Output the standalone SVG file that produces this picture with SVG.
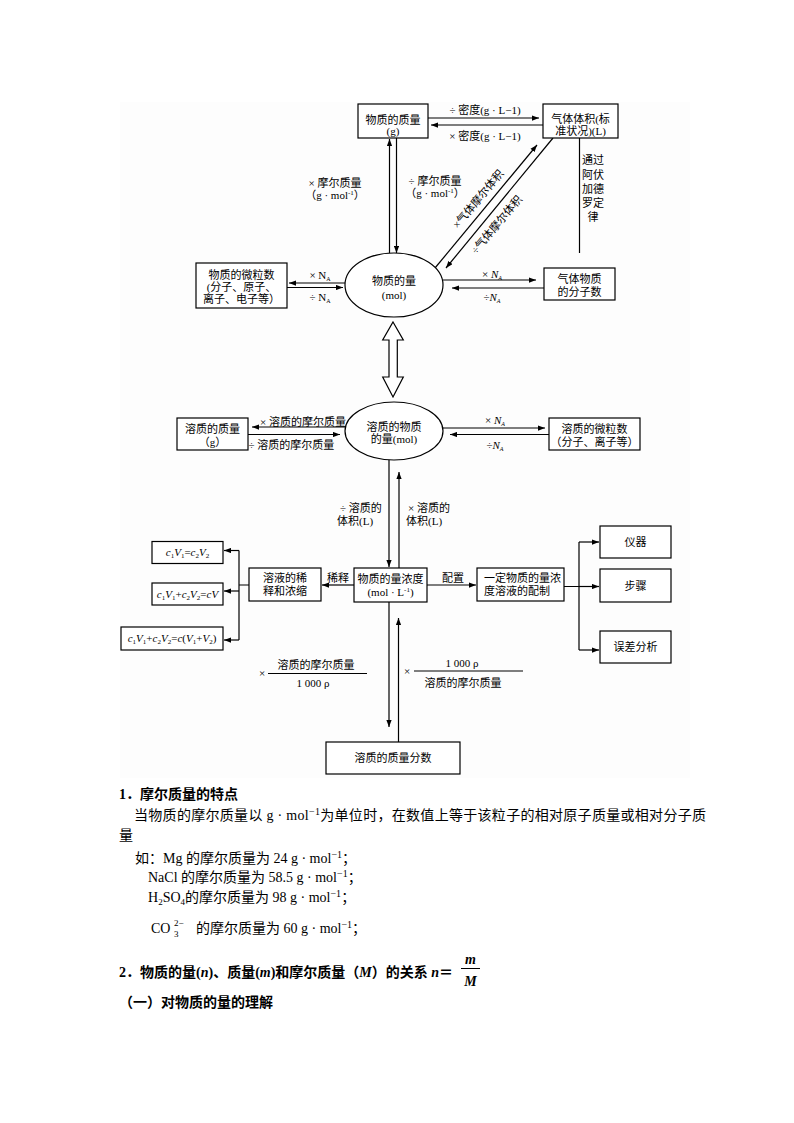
<svg xmlns="http://www.w3.org/2000/svg" width="794" height="1123" viewBox="0 0 794 1123">
<defs>
<marker id="ah" viewBox="0 0 8 6" refX="8" refY="3" markerWidth="7" markerHeight="5.5" orient="auto" markerUnits="userSpaceOnUse"><path d="M0,0 L8,3 L0,6 z" fill="#000"/></marker>
<style>
.bx{fill:#fff;stroke:#000;stroke-width:1.2}
.ln{fill:none;stroke:#000;stroke-width:1.2}
.ar{fill:none;stroke:#000;stroke-width:1.2;marker-end:url(#ah)}
text{font-family:"Liberation Serif","Noto Sans CJK SC",serif;fill:#000}
.t{font-size:11px}
.c{text-anchor:middle}
.i{font-style:italic}
.b{font-size:14px}
.h{font-size:14px;font-weight:bold}
</style>
</defs>
<rect x="120" y="102" width="570" height="676" fill="#fdfdfd"/>

<g id="connectors">
<path class="ar" d="M428,118 H539"/>
<path class="ar" d="M543,125 H431"/>
<path class="ar" d="M389.5,253 V139"/>
<path class="ar" d="M396.5,138 V253"/>
<path class="ar" d="M435,268 L537,145"/>
<path class="ar" d="M553,138 L446,268"/>
<path class="ln" d="M579.5,138 V253"/>
<path class="ar" d="M345,283 H289"/>
<path class="ar" d="M287,287.5 H343"/>
<path class="ar" d="M443,280 H536"/>
<path class="ar" d="M544,288 H452"/>
<path d="M393,322 L403.3,340 L397.3,340 L397.3,377 L403.3,377 L393,397 L382.7,377 L389,377 L389,340 L382.7,340 Z" fill="#fff" stroke="#000" stroke-width="1.2"/>
<path class="ar" d="M345.5,427 H252"/>
<path class="ar" d="M248,434.5 H340"/>
<path class="ar" d="M443,428 H545"/>
<path class="ar" d="M549,434.5 H450"/>
<path class="ar" d="M389,460 V567"/>
<path class="ar" d="M399,568 V472"/>
<path class="ar" d="M354,585 H322"/>
<path class="ln" d="M249,585 H239 M239,550.5 V640"/>
<path class="ar" d="M239,550.5 H224"/>
<path class="ar" d="M239,591 H224"/>
<path class="ar" d="M239,640 H224"/>
<path class="ar" d="M427,585 H476"/>
<path class="ln" d="M564,586.5 H579 M579,542 V650"/>
<path class="ar" d="M579,542 H599"/>
<path class="ar" d="M579,586.5 H599"/>
<path class="ar" d="M579,650 H599"/>
<path class="ar" d="M389,602 V727"/>
<path class="ar" d="M398.5,742 V618"/>
</g>

<g id="n_mass"><rect class="bx" x="358" y="104" width="70" height="34"/><text class="t c" x="393" y="124">物质的质量</text><text class="t c" x="393" y="135">(g)</text></g>
<g id="n_gasvol"><rect class="bx" x="543" y="104" width="75" height="34"/><text class="t c" x="580.5" y="123">气体体积(标</text><text class="t c" x="580.5" y="135">准状况)(L)</text></g>
<g id="n_particles"><rect class="bx" x="196" y="263" width="91" height="45"/><text class="t c" x="241.5" y="279">物质的微粒数</text><text class="t c" x="241.5" y="291">(分子、原子、</text><text class="t c" x="241.5" y="303">离子、电子等）</text></g>
<g id="n_amount"><ellipse class="bx" cx="394" cy="285" rx="49" ry="32"/><text class="t c" x="394" y="285">物质的量</text><text class="t c" x="394" y="299">(mol)</text></g>
<g id="n_gasmol"><rect class="bx" x="544" y="268" width="71" height="32"/><text class="t c" x="579.5" y="283">气体物质</text><text class="t c" x="579.5" y="296">的分子数</text></g>
<g id="n_solmass"><rect class="bx" x="177" y="418" width="71" height="32"/><text class="t c" x="212.5" y="433">溶质的质量</text><text class="t c" x="212.5" y="446">（g）</text></g>
<g id="n_solamount"><ellipse class="bx" cx="394" cy="431" rx="49" ry="29"/><text class="t c" x="394" y="431">溶质的物质</text><text class="t c" x="394" y="443">的量(mol)</text></g>
<g id="n_solpart"><rect class="bx" x="549" y="418" width="91" height="32"/><text class="t c" x="594.5" y="433">溶质的微粒数</text><text class="t c" x="594.5" y="446">（分子、离子等）</text></g>
<g id="n_conc"><rect class="bx" x="354" y="568" width="73" height="34"/><text class="t c" x="390.5" y="583">物质的量浓度</text><text class="t c" x="390.5" y="596">(mol · L<tspan font-size="7" dy="-4">-1</tspan><tspan dy="4">)</tspan></text></g>
<g id="n_dilute"><rect class="bx" x="249" y="568" width="72" height="33"/><text class="t c" x="285" y="582">溶液的稀</text><text class="t c" x="285" y="595">释和浓缩</text></g>
<g id="n_f1"><rect class="bx" x="152" y="541.5" width="71" height="22"/><text class="t c" x="187.5" y="556"><tspan class="i">c</tspan><tspan font-size="7" dy="2">1</tspan><tspan class="i" dy="-2">V</tspan><tspan font-size="7" dy="2">1</tspan><tspan dy="-2">=</tspan><tspan class="i">c</tspan><tspan font-size="7" dy="2">2</tspan><tspan class="i" dy="-2">V</tspan><tspan font-size="7" dy="2">2</tspan></text></g>
<g id="n_f2"><rect class="bx" x="152" y="583" width="71" height="22"/><text class="t c" x="187.5" y="598"><tspan class="i">c</tspan><tspan font-size="7" dy="2">1</tspan><tspan class="i" dy="-2">V</tspan><tspan font-size="7" dy="2">1</tspan><tspan dy="-2">+</tspan><tspan class="i">c</tspan><tspan font-size="7" dy="2">2</tspan><tspan class="i" dy="-2">V</tspan><tspan font-size="7" dy="2">2</tspan><tspan dy="-2">=</tspan><tspan class="i">cV</tspan></text></g>
<g id="n_f3"><rect class="bx" x="121" y="627" width="102" height="23"/><text class="t c" x="172" y="642"><tspan class="i">c</tspan><tspan font-size="7" dy="2">1</tspan><tspan class="i" dy="-2">V</tspan><tspan font-size="7" dy="2">1</tspan><tspan dy="-2">+</tspan><tspan class="i">c</tspan><tspan font-size="7" dy="2">2</tspan><tspan class="i" dy="-2">V</tspan><tspan font-size="7" dy="2">2</tspan><tspan dy="-2">=</tspan><tspan class="i">c</tspan><tspan>(</tspan><tspan class="i">V</tspan><tspan font-size="7" dy="2">1</tspan><tspan dy="-2">+</tspan><tspan class="i">V</tspan><tspan font-size="7" dy="2">2</tspan><tspan dy="-2">)</tspan></text></g>
<g id="n_prep"><rect class="bx" x="477" y="568" width="87" height="33"/><text class="t" x="484" y="582">一定物质的量浓</text><text class="t" x="484" y="595">度溶液的配制</text></g>
<g id="n_inst"><rect class="bx" x="600" y="526" width="71" height="32"/><text class="t c" x="635.5" y="546">仪器</text></g>
<g id="n_steps"><rect class="bx" x="600" y="569" width="71" height="33"/><text class="t c" x="635.5" y="590">步骤</text></g>
<g id="n_error"><rect class="bx" x="600" y="631" width="71" height="32"/><text class="t c" x="635.5" y="651">误差分析</text></g>
<g id="n_fraction"><rect class="bx" x="326" y="742" width="134" height="32"/><text class="t c" x="393" y="762">溶质的质量分数</text></g>

<g id="labels">
<text class="t c" x="485" y="114">÷ 密度(g · L−1)</text>
<text class="t c" x="485" y="140">× 密度(g · L−1)</text>
<text class="t c" x="335" y="187">× 摩尔质量</text>
<text class="t c" x="335" y="199">（g · mol<tspan font-size="7" dy="-4">-1</tspan><tspan dy="4">）</tspan></text>
<text class="t c" x="435" y="185">÷ 摩尔质量</text>
<text class="t c" x="435" y="197">（g · mol<tspan font-size="7" dy="-4">-1</tspan><tspan dy="4">）</tspan></text>
<text class="t c" transform="translate(478,199) rotate(-50)" x="0" y="4">×气体摩尔体积</text>
<text class="t c" transform="translate(496.5,224.5) rotate(-50)" x="0" y="4">÷气体摩尔体积</text>
<text class="t c" x="593" y="164">通过</text>
<text class="t c" x="593" y="179">阿伏</text>
<text class="t c" x="593" y="193">加德</text>
<text class="t c" x="593" y="207">罗定</text>
<text class="t c" x="593" y="221">律</text>
<text class="t c" x="320" y="279">× N<tspan font-size="6" dy="2">A</tspan></text>
<text class="t c" x="320" y="301">÷ N<tspan font-size="6" dy="2">A</tspan></text>
<text class="t c" x="492" y="278">× <tspan class="i">N</tspan><tspan class="i" font-size="6" dy="2">A</tspan></text>
<text class="t c" x="492" y="301">÷<tspan class="i">N</tspan><tspan class="i" font-size="6" dy="2">A</tspan></text>
<text class="t" x="260" y="425.5">× 溶质的摩尔质量</text>
<text class="t" x="248.5" y="449">÷ 溶质的摩尔质量</text>
<text class="t c" x="495" y="424">× <tspan class="i">N</tspan><tspan class="i" font-size="6" dy="2">A</tspan></text>
<text class="t c" x="495" y="449">÷<tspan class="i">N</tspan><tspan class="i" font-size="6" dy="2">A</tspan></text>
<text class="t" x="340" y="512">÷ 溶质的</text>
<text class="t" x="337" y="525">体积(L)</text>
<text class="t" x="408" y="512">× 溶质的</text>
<text class="t" x="406" y="525">体积(L)</text>
<text class="t c" x="338" y="582">稀释</text>
<text class="t c" x="453" y="582">配置</text>
<text class="t c" x="262" y="677">×</text>
<path class="ln" d="M268,673.5 H367"/>
<text class="t c" x="316" y="669">溶质的摩尔质量</text>
<text class="t c" x="313" y="687">1 000 ρ</text>
<text class="t c" x="407" y="675">×</text>
<path class="ln" d="M414,671 H523"/>
<text class="t c" x="462" y="667">1 000 ρ</text>
<text class="t c" x="463" y="687">溶质的摩尔质量</text>
</g>

<g id="notes">
<text class="h" x="119" y="799">1．摩尔质量的特点</text>
<text class="b" x="134" y="820" textLength="572" lengthAdjust="spacing">当物质的摩尔质量以 g · mol<tspan font-size="10" dy="-5">−1</tspan><tspan dy="5">为单位时，在数值上等于该粒子的相对原子质量或相对分子质</tspan></text>
<text class="b" x="119" y="840">量</text>
<text class="b" x="135" y="863">如：Mg 的摩尔质量为 24 g · mol<tspan font-size="10" dy="-5">−1</tspan><tspan dy="5">；</tspan></text>
<text class="b" x="148" y="882">NaCl 的摩尔质量为 58.5 g · mol<tspan font-size="10" dy="-5">−1</tspan><tspan dy="5">；</tspan></text>
<text class="b" x="148" y="902">H<tspan font-size="9" dy="3">2</tspan><tspan dy="-3">SO</tspan><tspan font-size="9" dy="3">4</tspan><tspan dy="-3">的摩尔质量为 98 g · mol</tspan><tspan font-size="10" dy="-5">−1</tspan><tspan dy="5">；</tspan></text>
<text class="b" x="151" y="933">CO</text>
<text font-size="9" x="174" y="926">2−</text>
<text font-size="9" x="174" y="937">3</text>
<text class="b" x="196" y="933">的摩尔质量为 60 g · mol<tspan font-size="10" dy="-5">−1</tspan><tspan dy="5">；</tspan></text>
<text class="h" x="119" y="977">2．物质的量(<tspan class="i">n</tspan>)、质量(<tspan class="i">m</tspan>)和摩尔质量（<tspan class="i">M</tspan>）的关系 <tspan class="i">n</tspan>＝</text>
<text class="h i c" x="470.5" y="964">m</text>
<path d="M461,968.5 H480" stroke="#000" stroke-width="1"/>
<text class="h i c" x="470.5" y="986">M</text>
<text class="h" x="119" y="1007">（一）对物质的量的理解</text>
</g>
</svg>
